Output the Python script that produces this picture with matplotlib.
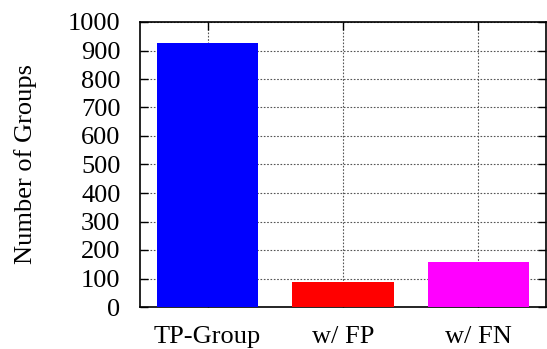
import matplotlib
matplotlib.use("Agg")
import matplotlib.pyplot as plt

categories = ["TP-Group", "w/ FP", "w/ FN"]
counts = [927, 89, 158]
bar_colors = ["#0000ff", "#ff0000", "#ff00ff"]

plt.rcParams["font.family"] = ["Liberation Serif", "DejaVu Serif"]
plt.rcParams["font.size"] = 19

fig = plt.figure(figsize=(5.47, 3.49), dpi=100)
ax = fig.add_axes([140 / 547, (349 - 307) / 349, 406 / 547, 285 / 349])

x = list(range(len(categories)))
ax.bar(x, counts, width=0.75, color=bar_colors, zorder=3, linewidth=0)

ax.set_xlim(-0.5, 2.5)
ax.set_ylim(0, 1000)
ax.set_yticks(range(0, 1001, 100))
ax.set_xticks(x)
ax.set_xticklabels(categories)
ax.set_ylabel("Number of Groups", labelpad=22)

# gnuplot-like look: dotted grid, inward mirrored ticks
ax.grid(True, linestyle=(0, (1.5, 1.5)), color="#555555", linewidth=0.8, zorder=0)
ax.tick_params(direction="in", top=True, right=True, length=6, width=1)
ax.tick_params(axis="y", pad=14)
ax.tick_params(axis="x", pad=14)
for s in ax.spines.values():
    s.set_linewidth(1.2)

fig.savefig("out.png", dpi=100)
